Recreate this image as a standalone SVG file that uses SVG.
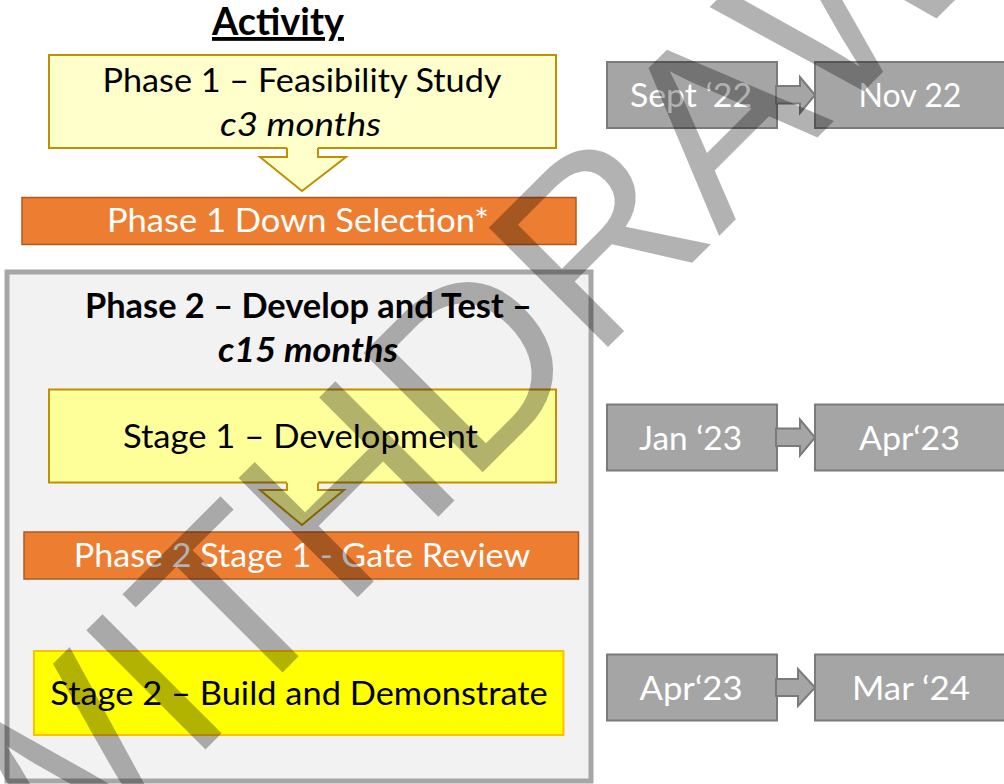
<svg xmlns="http://www.w3.org/2000/svg" width="1004" height="784" viewBox="0 0 1004 784">
<style>
  text { font-family: Lato, "Liberation Sans", sans-serif; font-size: 33.5px; text-anchor: middle; }
  .dark { fill: #000; }
  .white { fill: #fff; }
  .bold { font-weight: bold; }
  .ital { font-style: italic; }
  .pale { fill: #ffffcc; stroke: #bf9000; stroke-width: 2; }
  .yel { fill: #ffff99; stroke: #bf9000; stroke-width: 2; }
  .orange { fill: #ed7d31; stroke: #ae5a21; stroke-width: 1.5; }
  .bright { fill: #ffff00; stroke: #ffc000; stroke-width: 2; }
  .date { fill: #a5a5a5; stroke: #7b7b7b; stroke-width: 2; }
  .wm { font-family: "Liberation Sans", Arial, sans-serif; font-size: 245px; text-anchor: start; fill: #000; fill-opacity: 0.3; }
</style>

<g id="title">
  <text class="dark bold" x="278" y="35" style="font-size:38.4px" text-decoration="underline" textLength="132" lengthAdjust="spacingAndGlyphs">Activity</text>
</g>

<g id="phase2-container">
  <rect x="7" y="272" width="584" height="509" fill="#f2f2f2" stroke="#a6a6a6" stroke-width="5"/>
  <text class="dark bold" x="308.5" y="318" textLength="447" lengthAdjust="spacingAndGlyphs">Phase 2 – Develop and Test –</text>
  <text class="dark bold ital" x="308" y="362" textLength="180" lengthAdjust="spacingAndGlyphs">c15 months</text>
</g>

<g id="phase1">
  <rect class="pale" x="49" y="55" width="507" height="93"/>
  <text class="dark" x="302" y="92" textLength="399" lengthAdjust="spacingAndGlyphs">Phase 1 – Feasibility Study</text>
  <text class="dark ital" x="300.5" y="136" textLength="161" lengthAdjust="spacingAndGlyphs">c3 months</text>
</g>

<g id="down-selection">
  <rect class="orange" x="22" y="197.5" width="554" height="47"/>
  <text class="white" x="298" y="231.5" textLength="382" lengthAdjust="spacingAndGlyphs">Phase 1 Down Selection*</text>
</g>

<g id="stage1">
  <rect class="yel" x="49" y="389.5" width="507" height="93"/>
  <text class="dark" x="300.5" y="448" textLength="355" lengthAdjust="spacingAndGlyphs">Stage 1 – Development</text>
</g>

<g id="gate-review">
  <rect class="orange" x="24" y="532" width="554.5" height="47"/>
  <text class="white" x="302" y="566.5" textLength="456.5" lengthAdjust="spacingAndGlyphs">Phase 2 Stage 1 - Gate Review</text>
</g>

<g id="stage2">
  <rect class="bright" x="34" y="651" width="529.5" height="84"/>
  <text class="dark" x="299" y="705" textLength="497.5" lengthAdjust="spacingAndGlyphs">Stage 2 – Build and Demonstrate</text>
</g>

<g id="date-sep22">
  <rect class="date" x="607" y="62" width="170" height="66"/>
  <text class="white" x="691" y="107.3" textLength="122" lengthAdjust="spacingAndGlyphs">Sept ‘22</text>
</g>
<g id="date-nov22">
  <rect class="date" x="815" y="62" width="195" height="66"/>
  <text class="white" x="910" y="107.3" textLength="103" lengthAdjust="spacingAndGlyphs">Nov 22</text>
</g>
<g id="date-jan23">
  <rect class="date" x="607" y="404.5" width="170" height="66"/>
  <text class="white" x="690.5" y="450" textLength="103" lengthAdjust="spacingAndGlyphs">Jan ‘23</text>
</g>
<g id="date-apr23a">
  <rect class="date" x="815" y="404.5" width="195" height="66"/>
  <text class="white" x="909.5" y="450" textLength="101" lengthAdjust="spacingAndGlyphs">Apr‘23</text>
</g>
<g id="date-apr23b">
  <rect class="date" x="607" y="654.5" width="170" height="66"/>
  <text class="white" x="691" y="700" textLength="103" lengthAdjust="spacingAndGlyphs">Apr‘23</text>
</g>
<g id="date-mar24">
  <rect class="date" x="815" y="654.5" width="195" height="66"/>
  <text class="white" x="911" y="700" textLength="118" lengthAdjust="spacingAndGlyphs">Mar ‘24</text>
</g>

<g id="connectors">
  <!-- phase 1 down arrow -->
  <polygon points="287,146 318,146 318,157 346,157 302,191 260,157 287,157" fill="#ffffcc"/>
  <polyline points="318,148 318,157 346,157 302,191 260,157 287,157 287,148" fill="none" stroke="#bf9000" stroke-width="2"/>
  <!-- stage 1 down arrow -->
  <polygon points="287,481 318,481 318,490 344,490 302,525 260,490 287,490" fill="#ffff99"/>
  <polyline points="318,483 318,490 344,490 302,525 260,490 287,490 287,483" fill="none" stroke="#bf9000" stroke-width="2"/>
  <!-- date arrows -->
  <polygon points="776,86 800,86 800,77 815,95 800,113 800,103.5 776,103.5" fill="#a5a5a5" stroke="#7b7b7b" stroke-width="2"/>
  <polygon points="776,428.5 800,428.5 800,419.5 815,437.5 800,455.5 800,446 776,446" fill="#a5a5a5" stroke="#7b7b7b" stroke-width="2"/>
  <polygon points="776,679 798,679 798,669 815,687.5 798,706 798,696 776,696" fill="#a5a5a5" stroke="#7b7b7b" stroke-width="2"/>
</g>

<g id="watermark">
  <text class="wm" x="26" y="929" transform="rotate(-45 26 929)">WITHDRAWN</text>
</g>
</svg>
